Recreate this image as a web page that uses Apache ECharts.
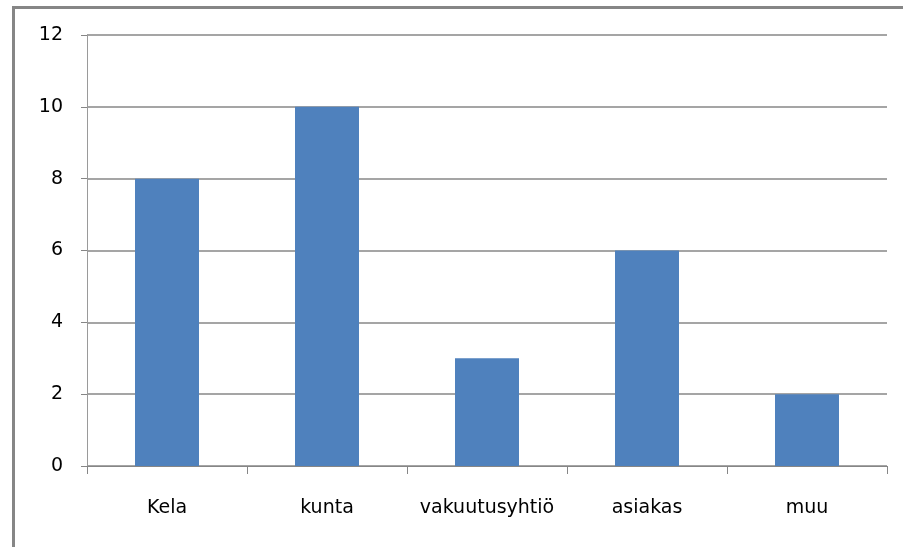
<!DOCTYPE html>
<html><head><meta charset="utf-8">
<script src="https://cdn.jsdelivr.net/npm/echarts@6/dist/echarts.min.js"></script>
<style>html,body{margin:0;padding:0;background:#fff}#c{width:903px;height:547px}</style>
</head><body><div id="c"></div>
<script>
const categories = ["Kela", "kunta", "vakuutusyhtiö", "asiakas", "muu"];
const values = [8, 10, 3, 6, 2];
const yTicks = [0, 2, 4, 6, 8, 10, 12];

const chart = echarts.init(document.getElementById('c'), null, {renderer: 'canvas'});
chart.setOption({
  animation: false,
  backgroundColor: '#fff',
  graphic: [{
    type: 'rect', left: 11, top: 5,
    shape: {width: 920, height: 580},
    style: {fill: 'none', stroke: '#868686', lineWidth: 3}
  }],
  grid: {left: 87, right: 16, top: 35, bottom: 81},
  xAxis: {
    type: 'category', data: categories,
    axisLine: {lineStyle: {color: '#868686', width: 1}},
    axisTick: {show: true, interval: 0, length: 8, lineStyle: {color: '#868686'}},
    axisLabel: {interval: 0, color: '#000', fontFamily: 'DejaVu Sans', fontSize: 19, margin: 33}
  },
  yAxis: {
    type: 'value', min: yTicks[0], max: yTicks[yTicks.length - 1], interval: 2,
    axisLine: {show: true, lineStyle: {color: '#9a9a9a', width: 1}},
    axisTick: {show: true, length: 6, lineStyle: {color: '#868686'}},
    splitLine: {lineStyle: {color: '#878787', width: 1.5}},
    axisLabel: {color: '#000', fontFamily: 'DejaVu Sans', fontSize: 19, margin: 24}
  },
  series: [{
    type: 'bar', data: values, barWidth: 64,
    itemStyle: {color: '#4F81BD'}
  }]
});
</script></body></html>
